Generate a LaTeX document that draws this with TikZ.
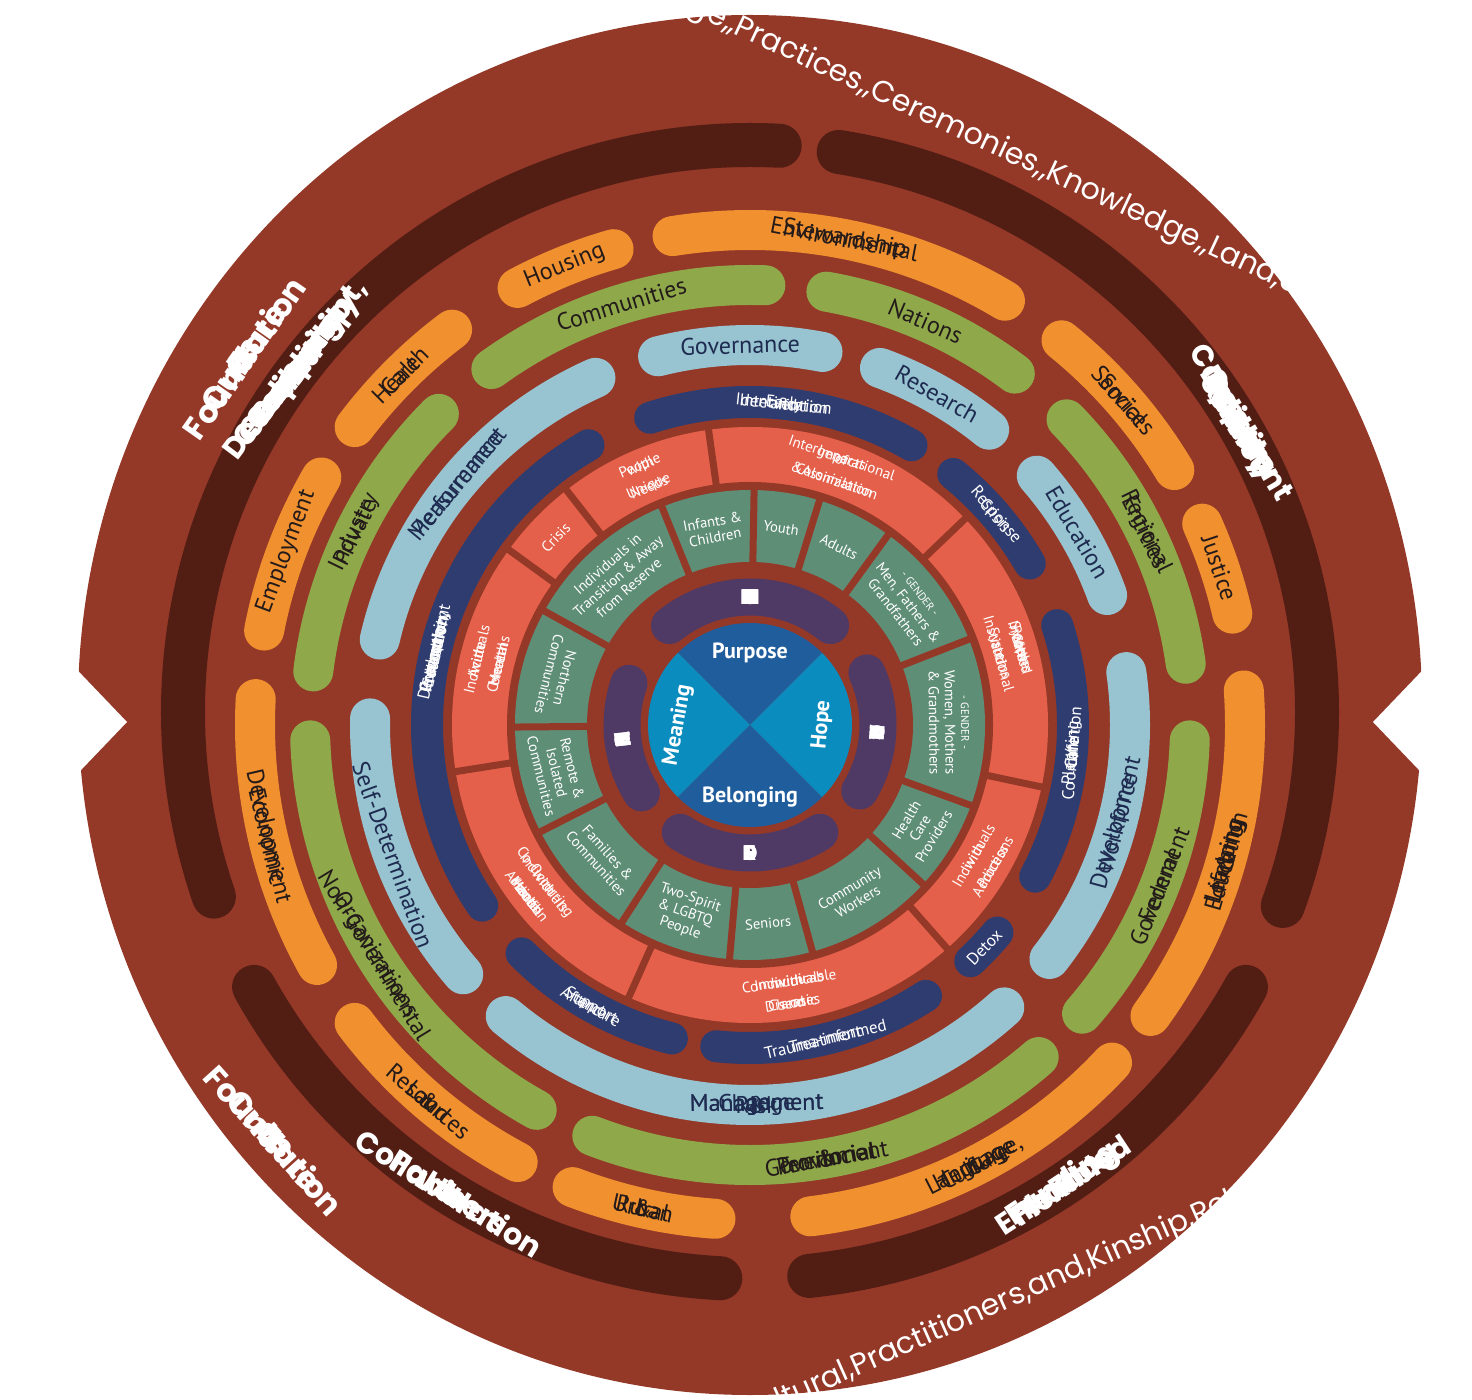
\documentclass[tikz,border=0pt]{standalone}
\usepackage{fontspec}
\setmainfont{PT Sans}
\usetikzlibrary{calc}
\newfontfamily\pop{Poppins}
\newfontfamily\pts{PT Sans}
\definecolor{bg}{HTML}{943828}
\definecolor{dband}{HTML}{521E14}
\definecolor{orng}{HTML}{F0902F}
\definecolor{grn}{HTML}{8FA94A}
\definecolor{lblue}{HTML}{97C4D0}
\definecolor{navy}{HTML}{2F3C70}
\definecolor{navt}{HTML}{1E2A50}
\definecolor{rd}{HTML}{E5604A}
\definecolor{wg}{HTML}{5F8E77}
\definecolor{purp}{HTML}{4F3965}
\definecolor{bdk}{HTML}{1F5D9C}
\definecolor{blt}{HTML}{0A8CBF}
\definecolor{tdk}{HTML}{231A1A}
\newcommand\fA{\pts\fontsize{12}{12}\selectfont}
\newcommand\fN{\pts\fontsize{8.5}{8.5}\selectfont}
\newcommand\fD{\pop\bfseries\fontsize{15}{15}\selectfont}
\newcommand\fR{\pts\fontsize{7.5}{7.5}\selectfont}
\newcommand\fP{\pop\bfseries\fontsize{10.5}{10.5}\selectfont}
\newcommand\fOB{\pop\bfseries\fontsize{16}{16}\selectfont}
\newcommand\fOL{\pop\fontsize{15}{15}\selectfont}
\newlength\wl
\newlength\spl
% #1 centre #2 r(px) #3 mid angle #4 dir (1 clockwise, -1 counter) #5 font #6 colour #7 words
\newcommand\arcwords[7]{%
 \settowidth\spl{#5\ }%
 \xdef\totw{0}%
 \foreach \w in {#7}{\settowidth\wl{#5\w}\pgfmathsetmacro\tmp{\totw+\wl+\spl}\xdef\totw{\tmp}}%
 \pgfmathsetmacro\tmp{(#3)+(#4)*(\totw-\spl)/(0.5*#2)*28.6479}\xdef\cura{\tmp}%
 \foreach \w in {#7}{\settowidth\wl{#5\w}%
   \pgfmathsetmacro\wang{\cura-(#4)*\wl/(0.5*#2)*28.6479}%
   \node[font=#5,text=#6,inner sep=0pt,rotate={\wang-(#4)*90}] at ($(#1)+(\wang:#2)$) {\w};
   \pgfmathsetmacro\tmp{\cura-(#4)*(\wl+\spl)/(0.5*#2)*57.2958}\xdef\cura{\tmp}}%
}
% #1 centre #2 r #3 start #4 end #5 colour #6 width
\newcommand\band[6]{\draw[line width=#6,line cap=round,draw=#5] ($(#1)+(#3:#2)$) arc[start angle=#3,end angle=#4,radius=#2];}
\begin{document}
\begin{tikzpicture}[x=0.5pt,y=0.5pt,
  wlab/.style={text=white,font=\pts\fontsize{7.3}{8}\selectfont,align=center,inner sep=0pt},
  sep/.style={line width=3.5pt,draw=bg}]
\useasboundingbox (0,0) rectangle (1472,-1400);
\coordinate (C) at (750,-725);
\coordinate (D) at (750,-712);
% outer disk
\fill[bg] (750,-705) ellipse [x radius=672,y radius=690];
\fill[white] (60,-652) -- (127,-722) -- (60,-792) -- cycle;
\fill[white] (1440,-652) -- (1373,-722) -- (1440,-792) -- cycle;
% outer texts
\arcwords{D}{618}{145}{1}{\fOB}{white}{1.,Culture,as,Foundation}
\arcwords{D}{618}{65}{1}{\fOL}{white}{(Language{,},Practices{,},Ceremonies{,},Knowledge{,},Land,and,Values)}
\arcwords{D}{640}{222}{-1}{\fOB}{white}{1.,Culture,as,Foundation}
\arcwords{D}{640}{294}{-1}{\fOL}{white}{(Elders{,},Cultural,Practitioners,and,Kinship,Relationships)}
% dark band
\band{D}{567}{199}{87}{dband}{22pt}
\band{D}{567}{81}{-20}{dband}{22pt}
\band{D}{567}{209}{267}{dband}{22pt}
\band{D}{567}{-84}{-29}{dband}{22pt}
\arcwords{D}{567}{143}{1}{\fD}{white}{2.,Community,Development{,},Ownership,and,Capacity,Building}
\arcwords{D}{567}{30.5}{1}{\fD}{white}{3.,Quality,Care,System,and,Competent,Service,Delivery}
\arcwords{D}{567}{238}{-1}{\fD}{white}{4.,Collaboration,with,Partners}
\arcwords{D}{567}{-56.5}{-1}{\fD}{white}{5.,Enhanced,Flexible,Funding}
% orange band
\band{C}{495}{169}{150}{orng}{20pt}
\band{C}{495}{143}{127}{orng}{20pt}
\band{C}{495}{118}{106}{orng}{20pt}
\band{C}{495}{99}{59}{orng}{20pt}
\band{C}{495}{51}{31}{orng}{20pt}
\band{C}{495}{24}{13}{orng}{20pt}
\band{C}{495}{-36}{4}{orng}{20pt}
\band{C}{495}{-83}{-43}{orng}{20pt}
\band{C}{495}{249}{266}{orng}{20pt}
\band{C}{495}{217}{242}{orng}{20pt}
\band{C}{495}{177}{209}{orng}{20pt}
\arcwords{C}{495}{159.5}{1}{\fA}{tdk}{Employment}
\arcwords{C}{495}{135}{1}{\fA}{tdk}{Health,Care}
\arcwords{C}{495}{112}{1}{\fA}{tdk}{Housing}
\arcwords{C}{495}{79}{1}{\fA}{tdk}{Environmental,Stewardship}
\arcwords{C}{495}{41}{1}{\fA}{tdk}{Social,Services}
\arcwords{C}{495}{18.5}{1}{\fA}{tdk}{Justice}
\arcwords{C}{495}{-16}{-1}{\fA}{tdk}{Education,\&,Lifelong,Learning}
\arcwords{C}{495}{-63}{-1}{\fA}{tdk}{Language{,},Heritage,\&,Culture}
\arcwords{C}{495}{257.5}{-1}{\fA}{tdk}{Urban,\&,Rural}
\arcwords{C}{495}{229.5}{-1}{\fA}{tdk}{Land,\&,Resources}
\arcwords{C}{495}{193}{-1}{\fA}{tdk}{Economic,Development}
% green band
\band{C}{440}{173}{135}{grn}{20pt}
\band{C}{440}{126}{88}{grn}{20pt}
\band{C}{440}{80}{53}{grn}{20pt}
\band{C}{440}{44}{8}{grn}{20pt}
\band{C}{440}{-41}{-2}{grn}{20pt}
\band{C}{440}{249}{311}{grn}{20pt}
\band{C}{440}{182}{241}{grn}{20pt}
\arcwords{C}{440}{154}{1}{\fA}{tdk}{Private,Industry}
\arcwords{C}{440}{107}{1}{\fA}{tdk}{Communities}
\arcwords{C}{440}{66.5}{1}{\fA}{tdk}{Nations}
\arcwords{C}{440}{26}{1}{\fA}{tdk}{Regional,Entities}
\arcwords{C}{440}{-21.5}{-1}{\fA}{tdk}{Federal,Government}
\arcwords{C}{440}{280}{-1}{\fA}{tdk}{Provincial,\&,Territorial,Government}
\arcwords{C}{440}{211.5}{-1}{\fA}{tdk}{Non-Governmental,Organizations}
% light blue band
\band{C}{380}{167}{114}{lblue}{20pt}
\band{C}{380}{104}{79}{lblue}{20pt}
\band{C}{380}{70}{51}{lblue}{20pt}
\band{C}{380}{41}{20}{lblue}{20pt}
\band{C}{380}{-38}{8}{lblue}{20pt}
\band{C}{380}{230}{312}{lblue}{20pt}
\band{C}{380}{179}{221}{lblue}{20pt}
\arcwords{C}{380}{140.5}{1}{\fA}{navt}{Performance,Measurement}
\arcwords{C}{380}{91.5}{1}{\fA}{navt}{Governance}
\arcwords{C}{380}{60.5}{1}{\fA}{navt}{Research}
\arcwords{C}{380}{30.5}{1}{\fA}{navt}{Education}
\arcwords{C}{380}{-15}{-1}{\fA}{navt}{Workforce,Development}
\arcwords{C}{380}{271}{-1}{\fA}{navt}{Change,Management,\&,Risk,Management}
\arcwords{C}{380}{200}{-1}{\fA}{navt}{Self-Determination}
% navy band
\band{C}{323}{214}{120}{navy}{16pt}
\band{C}{323}{108}{60}{navy}{16pt}
\band{C}{323}{51}{30}{navy}{16pt}
\band{C}{323}{-28}{18}{navy}{16pt}
\band{C}{323}{-47}{-40}{navy}{16pt}
\band{C}{323}{264}{303}{navy}{16pt}
\band{C}{323}{225}{256}{navy}{16pt}
\arcwords{C}{323}{167}{1}{\fN}{white}{Health,Promotion{,},Prevention{,},Community,Development,and,Education}
\arcwords{C}{323}{84}{1}{\fN}{white}{Early,Identification,and,Intervention}
\arcwords{C}{323}{40.5}{1}{\fN}{white}{Crisis,Response}
\arcwords{C}{323}{-5}{-1}{\fN}{white}{Coordination,of,Care,/,Care,Planning}
\arcwords{C}{323}{-43.5}{-1}{\fN}{white}{Detox}
\arcwords{C}{323}{283.5}{-1}{\fN}{white}{Trauma-informed,Treatment}
\arcwords{C}{323}{240.5}{-1}{\fN}{white}{Support,and,Aftercare}
% red and green wedge rings
\fill[rd] (C) circle (298);
\fill[bg] (C) circle (243);
\fill[wg] (C) circle (235);
\fill[bg] (C) circle (163);
\foreach \a in {128,98,43.8,-12,-48.6,246,189,144}
  \draw[sep] ($(C)+(\a:240)$) -- ($(C)+(\a:300)$);
\foreach \a in {89,72.8,54,21.4,-20,-42.6,-74.6,265,237,207,180.5,151,112}
  \draw[sep] ($(C)+(\a:160)$) -- ($(C)+(\a:237)$);
% red texts
\arcwords{C}{270}{136}{1}{\fR}{white}{Crisis}
\arcwords{C}{281}{113}{1}{\fR}{white}{People,with}
\arcwords{C}{259}{113}{1}{\fR}{white}{Unique,Needs}
\arcwords{C}{281}{71}{1}{\fR}{white}{Intergenerational,Impacts,of}
\arcwords{C}{259}{71}{1}{\fR}{white}{Colonization,\&Assimilation}
\arcwords{C}{281}{16}{1}{\fR}{white}{People,Involved,with,Care,Systems}
\arcwords{C}{259}{16}{1}{\fR}{white}{and,Institutional,Systems}
\arcwords{C}{259}{-30.3}{-1}{\fR}{white}{Individuals,with}
\arcwords{C}{281}{-30.3}{-1}{\fR}{white}{Process,Addictions}
\arcwords{C}{259}{278.7}{-1}{\fR}{white}{Individuals,with,Communicable}
\arcwords{C}{281}{278.7}{-1}{\fR}{white}{and,Chronic,Diseases}
\arcwords{C}{259}{217.5}{-1}{\fR}{white}{Individuals,with,Co-Occurring}
\arcwords{C}{281}{217.5}{-1}{\fR}{white}{Mental,Health,and,Addiction,Issues}
\arcwords{C}{281}{166.5}{1}{\fR}{white}{Individuals,with,Acute}
\arcwords{C}{259}{166.5}{1}{\fR}{white}{Mental,Health,Concerns}
% green wedge labels
\node[wlab,rotate=10.5] (g1) at ($(C)+(100.5:199)$) {Infants \&\\Children};
\node[wlab,rotate=-9] (g2) at ($(C)+(81:199)$) {Youth};
\node[wlab,rotate=-26.6] (g3) at ($(C)+(63.4:199)$) {Adults};
\node[wlab,rotate=-52.3] (g4) at ($(C)+(37.7:199)$) {{\fontsize{5.5}{6}\selectfont - GENDER -}\\Men, Fathers \&\\Grandfathers};
\node[wlab,rotate=-89.3] (g5) at ($(C)+(0.7:199)$) {{\fontsize{5.5}{6}\selectfont - GENDER -}\\Women, Mothers\\\& Grandmothers};
\node[wlab,rotate=58.7] (g6) at ($(C)+(-31.3:199)$) {Health\\Care\\Providers};
\node[wlab,rotate=31.4] (g7) at ($(C)+(-58.6:199)$) {Community\\Workers};
\node[wlab,rotate=5.2] (g8) at ($(C)+(-84.8:199)$) {Seniors};
\node[wlab,rotate=-19] (g9) at ($(C)+(251:199)$) {Two-Spirit\\\& LGBTQ\\People};
\node[wlab,rotate=-48] (g10) at ($(C)+(222:199)$) {Families \&\\Communities};
\node[wlab,rotate=-76.2] (g11) at ($(C)+(193.8:199)$) {Remote \&\\Isolated\\Communities};
\node[wlab,rotate=-104.2] (g12) at ($(C)+(165.8:199)$) {Northern\\Communities};
\node[wlab,rotate=41.5] (g13) at ($(C)+(131.5:199)$) {Individuals in\\Transition \& Away\\from Reserve};
% purple ring
\band{C}{128}{129}{51}{purp}{18.5pt}
\band{C}{128}{24}{-31}{purp}{18.5pt}
\band{C}{128}{237}{303}{purp}{18.5pt}
\band{C}{128}{212}{161}{purp}{18.5pt}
\arcwords{C}{128}{90}{1}{\fP}{white}{C,O,M,M,U,N,I,T,Y}
\arcwords{C}{128}{-3.5}{1}{\fP}{white}{C,L,A,N}
\arcwords{C}{128}{270}{-1}{\fP}{white}{E,L,D,E,R,S}
\arcwords{C}{128}{186.5}{1}{\fP}{white}{K,I,N,S,H,I,P}
% centre quadrants
\fill[bdk] (C) -- ($(C)+(45:102)$) arc[start angle=45,end angle=135,radius=102] -- cycle;
\fill[blt] (C) -- ($(C)+(135:102)$) arc[start angle=135,end angle=225,radius=102] -- cycle;
\fill[bdk] (C) -- ($(C)+(225:102)$) arc[start angle=225,end angle=315,radius=102] -- cycle;
\fill[blt] (C) -- ($(C)+(-45:102)$) arc[start angle=-45,end angle=45,radius=102] -- cycle;
\node[text=white,font=\bfseries\fontsize{11}{11}\selectfont] (pur) at ($(C)+(90:72)$) {Purpose};
\node[text=white,font=\bfseries\fontsize{11}{11}\selectfont] (bel) at ($(C)+(270:72)$) {Belonging};
\node[text=white,font=\bfseries\fontsize{11}{11}\selectfont,rotate=80] (mea) at ($(C)+(180:72)$) {Meaning};
\node[text=white,font=\bfseries\fontsize{11}{11}\selectfont,rotate=85] (hop) at ($(C)+(0:72)$) {Hope};
\end{tikzpicture}
\end{document}
